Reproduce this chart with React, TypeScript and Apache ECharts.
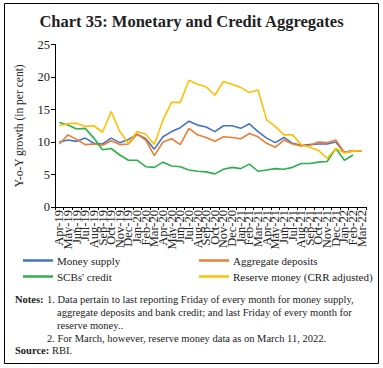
import React, { useEffect, useRef } from "react";
import * as echarts from "echarts";

const categories = [
  "Apr-19", "May-19", "Jun-19", "Jul-19", "Aug-19", "Sep-19", "Oct-19", "Nov-19", "Dec-19", "Jan-20", "Feb-20", "Mar-20",
  "Apr-20", "May-20", "Jun-20", "Jul-20", "Aug-20", "Sep-20", "Oct-20", "Nov-20", "Dec-20", "Jan-21", "Feb-21", "Mar-21",
  "Apr-21", "May-21", "Jun-21", "Jul-21", "Aug-21", "Sep-21", "Oct-21", "Nov-21", "Dec-21", "Jan-22", "Feb-22", "Mar-22",
];

const moneySupply = [
  10.0, 10.3, 10.1, 10.6, 9.8, 9.7, 10.6, 9.9, 10.4, 11.2, 10.5, 8.9,
  10.8, 11.6, 12.2, 13.2, 12.6, 12.3, 11.6, 12.5, 12.5, 12.1, 12.8, 11.6,
  10.6, 9.9, 10.7, 9.8, 9.5, 9.6, 9.7, 9.7, 10.0, 8.4, 8.7, null,
];

const aggregateDeposits = [
  9.7, 11.1, 10.4, 9.6, 9.7, 9.5, 10.2, 9.6, 9.7, 11.2, 10.3, 7.9,
  10.0, 10.5, 9.6, 12.1, 11.1, 10.7, 10.1, 10.8, 10.7, 10.5, 11.3, 10.8,
  9.8, 9.2, 10.3, 9.7, 9.4, 9.5, 10.0, 9.9, 10.3, 8.4, 8.6, 8.6,
];

const scbCredit = [
  13.0, 12.6, 12.0, 12.1, 10.6, 8.8, 9.0, 8.0, 7.2, 7.2, 6.2, 6.1,
  6.9, 6.3, 6.2, 5.7, 5.5, 5.4, 5.1, 5.8, 6.1, 5.9, 6.6, 5.5,
  5.7, 5.9, 5.8, 6.1, 6.7, 6.7, 6.9, 7.0, 9.0, 7.2, 8.0, null,
];

const reserveMoney = [
  12.5, 12.8, 12.9, 12.4, 12.5, 11.5, 14.7, 11.6, 9.8, 11.6, 11.2, 9.6,
  13.4, 16.1, 16.1, 19.5, 18.9, 18.5, 17.2, 19.3, 18.9, 18.4, 17.6, 18.0,
  13.4, 12.4, 11.1, 11.1, 9.6, 9.2, 8.7, 7.5, 9.0, 8.3, 8.6, 8.7,
];

const yTicks = [0, 5, 10, 15, 20, 25];

const SERIF = "'Liberation Serif', 'DejaVu Serif', serif";

export default function App() {
  const ref = useRef<HTMLDivElement>(null);
  useEffect(() => {
    document.body.style.margin = "0";
    const chart = echarts.init(ref.current!, null, { renderer: "svg" });
    const names = ["Money supply", "Aggregate deposits", "SCBs' credit", "Reserve money (CRR adjusted)"];
    const colors = ["#4472C4", "#ED7D31", "#2DB04B", "#FFC000"];
    const datas = [moneySupply, aggregateDeposits, scbCredit, reserveMoney];
    const legendPos = [
      { left: 23, top: 255 },
      { left: 199, top: 255 },
      { left: 23, top: 271 },
      { left: 199, top: 271 },
    ];
    const noteStyle = { fontFamily: SERIF, fontSize: 10.5, fill: "#222" };
    chart.setOption({
      animation: false,
      backgroundColor: "#fff",
      title: {
        text: "Chart 35: Monetary and Credit Aggregates",
        left: "center",
        top: 8,
        textStyle: { fontFamily: SERIF, fontSize: 16.5, fontWeight: "bold", color: "#222" },
      },
      grid: { left: 55, right: 17, top: 44.5, bottom: 161 },
      legend: names.map((n, i) => ({
        data: [n],
        ...legendPos[i],
        icon: "rect",
        itemWidth: 30,
        itemHeight: 2.5,
        itemGap: 0,
        padding: 0,
        textStyle: { fontFamily: SERIF, fontSize: 11, color: "#222", padding: [0, 0, 0, -1] },
      })),
      xAxis: {
        type: "category",
        data: categories,
        boundaryGap: true,
        axisLine: { lineStyle: { color: "#000", width: 1 } },
        axisTick: { show: true, length: 3, lineStyle: { color: "#000" } },
        axisLabel: {
          interval: 0,
          rotate: 90,
          margin: 3,
          fontFamily: SERIF,
          fontSize: 12.5,
          color: "#222",
        },
      },
      yAxis: {
        type: "value",
        min: yTicks[0],
        max: yTicks[yTicks.length - 1],
        interval: 5,
        name: "Y-o-Y growth (in per cent)",
        nameLocation: "middle",
        nameGap: 30,
        nameRotate: 90,
        nameTextStyle: { fontFamily: SERIF, fontSize: 11.5, color: "#222" },
        splitLine: { show: false },
        axisLine: { show: true, lineStyle: { color: "#000", width: 1 } },
        axisTick: { show: true, length: 4, lineStyle: { color: "#000" } },
        axisLabel: { fontFamily: SERIF, fontSize: 12.5, color: "#222", margin: 5 },
      },
      series: names.map((n, i) => ({
        name: n,
        type: "line",
        data: datas[i],
        showSymbol: false,
        symbol: "none",
        color: colors[i],
        lineStyle: { width: 1.6, color: colors[i] },
      })),
      graphic: [
        {
          type: "rect",
          shape: { x: 4.5, y: 3.5, width: 374, height: 360 },
          style: { fill: "none", stroke: "#000", lineWidth: 1 },
          silent: true,
        },
        {
          type: "text",
          left: 15,
          top: 294,
          style: { ...noteStyle, text: "Notes:", fontWeight: "bold" },
        },
        {
          type: "text",
          left: 47,
          top: 294,
          style: { ...noteStyle, text: "1. Data pertain to last reporting Friday of every month for money supply," },
        },
        {
          type: "text",
          left: 57,
          top: 307,
          style: { ...noteStyle, text: "aggregate deposits and bank credit; and last Friday of every month for" },
        },
        {
          type: "text",
          left: 57,
          top: 320,
          style: { ...noteStyle, text: "reserve money.." },
        },
        {
          type: "text",
          left: 47,
          top: 333,
          style: { ...noteStyle, text: "2. For March, however, reserve money data as on March 11, 2022." },
        },
        {
          type: "text",
          left: 15,
          top: 345,
          style: { ...noteStyle, text: "Source:", fontWeight: "bold" },
        },
        {
          type: "text",
          left: 52,
          top: 345,
          style: { ...noteStyle, text: "RBI." },
        },
      ],
    });
    return () => chart.dispose();
  }, []);
  return <div ref={ref} style={{ width: 383, height: 368 }} />;
}
